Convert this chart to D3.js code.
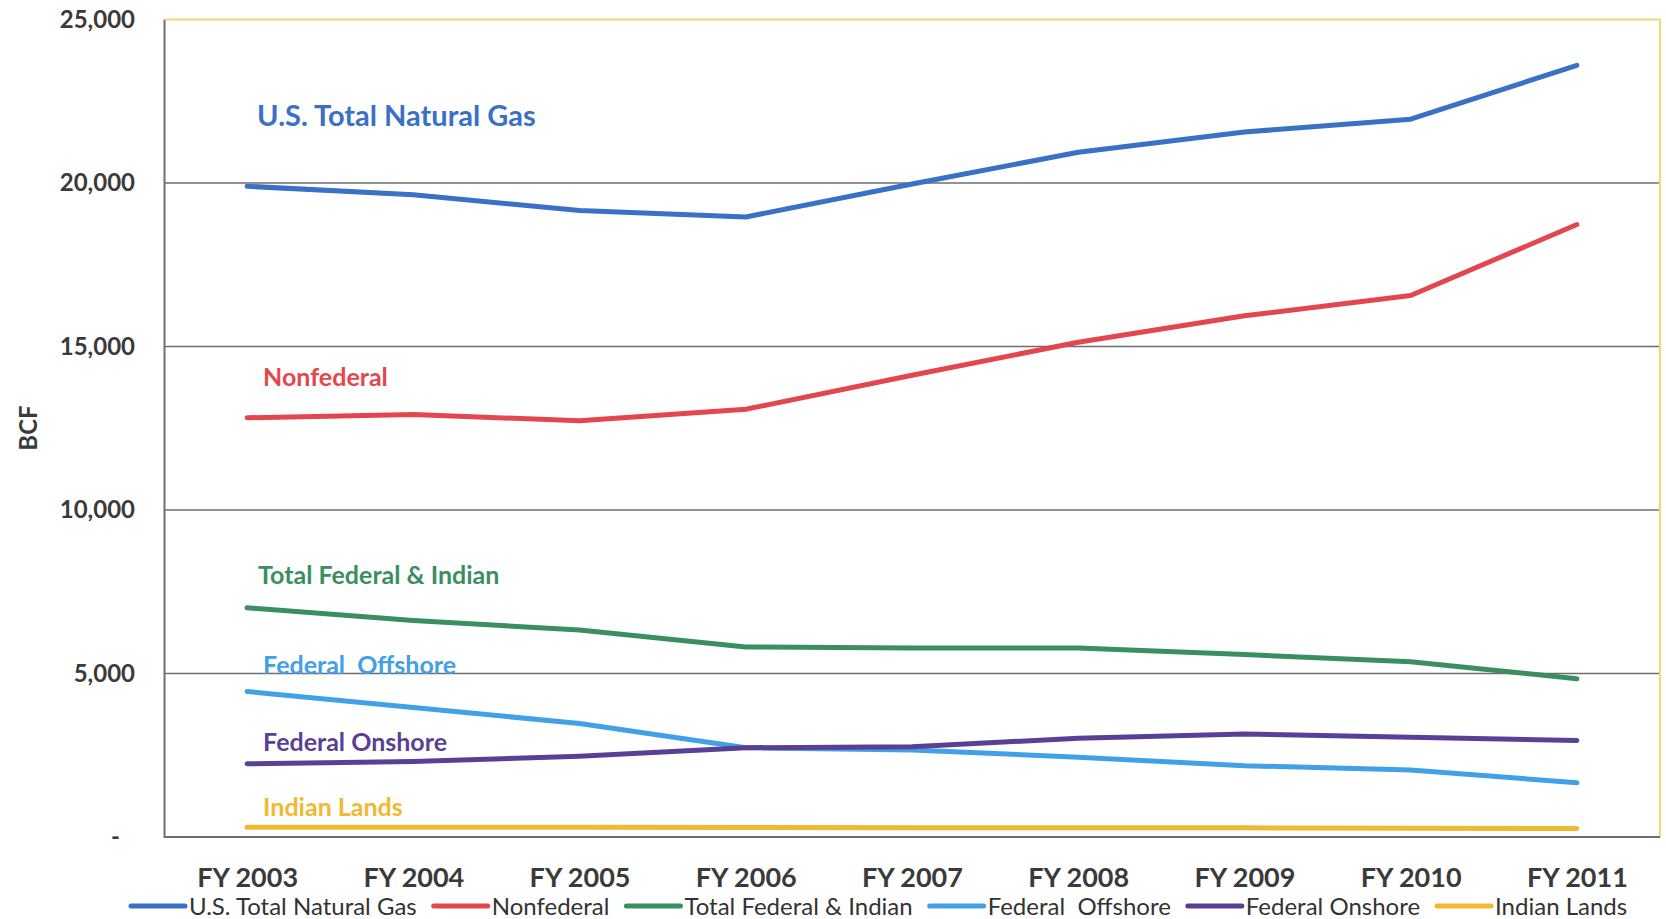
<!DOCTYPE html>
<html>
<head>
<meta charset="utf-8">
<script src="https://cdn.jsdelivr.net/npm/d3@7"></script>
<style>
  body { margin: 0; background: #fff; }
  svg { display: block; font-family: Lato, "Open Sans", sans-serif; }
</style>
</head>
<body>
<svg id="chart"></svg>
<script>
// data (BCF)
let years = ["FY 2003", "FY 2004", "FY 2005", "FY 2006", "FY 2007", "FY 2008", "FY 2009", "FY 2010", "FY 2011"]
let usTotal = [19900, 19640, 19160, 18960, 19970, 20940, 21560, 21950, 23600]
let nonfederal = [12820, 12920, 12730, 13080, 14120, 15130, 15940, 16560, 18730]
let totalFedIndian = [7010, 6620, 6330, 5810, 5780, 5780, 5580, 5360, 4840]
let fedOffshore = [4450, 3960, 3470, 2730, 2660, 2440, 2180, 2050, 1660]
let fedOnshore = [2240, 2310, 2470, 2730, 2760, 3020, 3150, 3050, 2950]
let indianLands = [300, 300, 300, 290, 280, 280, 280, 270, 260]
let yTicks = [0, 5000, 10000, 15000, 20000, 25000]

let series = [
  { name: "U.S. Total Natural Gas", values: usTotal, color: "#3a70c6", dy: -60, dx: 10, size: 29 },
  { name: "Nonfederal", values: nonfederal, color: "#e4464d", dy: -32, dx: 16, size: 25 },
  { name: "Total Federal & Indian", values: totalFedIndian, color: "#3a8f5f", dy: -24, dx: 11, size: 25 },
  { name: "Federal  Offshore", values: fedOffshore, color: "#41a0e6", dy: -17, dx: 16, size: 25 },
  { name: "Federal Onshore", values: fedOnshore, color: "#5a3f96", dy: -13, dx: 16, size: 25 },
  { name: "Indian Lands", values: indianLands, color: "#f1b930", dy: -11, dx: 16, size: 25 }
]

let width = 1666
let height = 919
let padLeft = 164, padRight = 1660, padTop = 19.5, padBottom = 837

let svg = d3.select("#chart").attr("width", width).attr("height", height)

let xScale = d3.scalePoint().domain(years).range([padLeft, padRight]).padding(0.5)
let yScale = d3.scaleLinear().domain([0, 25000]).range([padBottom, padTop])

// gridlines
svg.append("g")
   .selectAll("line")
   .data(yTicks.filter(d => d > 0 && d < 25000))
   .enter()
   .append("line")
   .attr("x1", padLeft).attr("x2", padRight)
   .attr("y1", d => yScale(d)).attr("y2", d => yScale(d))
   .attr("stroke", "#6e6e6e").attr("stroke-width", 1.5)

// plot border: yellow top/right, grey left/bottom
svg.append("line").attr("x1", padLeft).attr("x2", padRight).attr("y1", padTop).attr("y2", padTop)
   .attr("stroke", "#ecd970").attr("stroke-width", 2)
svg.append("line").attr("x1", padRight).attr("x2", padRight).attr("y1", padTop).attr("y2", padBottom)
   .attr("stroke", "#ecd970").attr("stroke-width", 2)

// y axis
let yAxis = d3.axisLeft(yScale)
              .tickValues(yTicks)
              .tickSize(0)
              .tickPadding(29)
              .tickFormat(d => d === 0 ? "-" : d3.format(",")(d))
let gy = svg.append("g").attr("transform", "translate(" + padLeft + ",0)").call(yAxis)
gy.select(".domain").attr("stroke", "#6e6e6e").attr("stroke-width", 2)
gy.selectAll("text").attr("font-size", 24).attr("font-weight", "bold").attr("fill", "#3a3a3a")
  .attr("font-family", "Lato, sans-serif")
gy.selectAll("text").filter(d => d === 0).attr("dx", -15)

// x axis
let xAxis = d3.axisBottom(xScale).tickSize(0).tickPadding(31)
let gx = svg.append("g").attr("transform", "translate(0," + padBottom + ")").call(xAxis)
gx.select(".domain").attr("stroke", "#6e6e6e").attr("stroke-width", 2)
   .attr("d", "M" + padLeft + ",0H" + padRight)
gx.selectAll("text").attr("font-size", 27).attr("font-weight", "bold").attr("fill", "#3a3a3a")
  .attr("font-family", "Lato, sans-serif")

// axis title
svg.append("text")
   .attr("transform", "translate(37,428) rotate(-90)")
   .attr("text-anchor", "middle")
   .attr("font-size", 24).attr("font-weight", "bold").attr("fill", "#3a3a3a")
   .text("BCF")

// lines
let line = d3.line()
             .x((d, i) => xScale(years[i]))
             .y(d => yScale(d))

svg.append("g")
   .selectAll("path")
   .data(series)
   .enter()
   .append("path")
   .attr("d", d => line(d.values))
   .attr("fill", "none")
   .attr("stroke", d => d.color)
   .attr("stroke-width", 5)
   .attr("stroke-linejoin", "round")
   .attr("stroke-linecap", "round")

// inline labels
svg.append("g")
   .selectAll("text")
   .data(series)
   .enter()
   .append("text")
   .attr("x", d => xScale(years[0]) + d.dx)
   .attr("y", d => yScale(d.values[0]) + d.dy)
   .attr("font-size", d => d.size)
   .attr("font-weight", "bold")
   .attr("fill", d => d.color)
   .style("white-space", "pre")
   .text(d => d.name)

// legend
let legend = svg.append("g").attr("transform", "translate(130,906)")
let lx = 0
series.forEach(s => {
  let item = legend.append("g").attr("transform", "translate(" + lx + ",0)")
  item.append("line").attr("x1", 1).attr("x2", 55).attr("y1", 0).attr("y2", 0)
      .attr("stroke", s.color).attr("stroke-width", 5).attr("stroke-linecap", "round")
  let t = item.append("text").attr("x", 59).attr("y", 8.5)
      .attr("font-size", 24).attr("fill", "#333")
      .style("white-space", "pre")
      .text(s.name)
  lx += 59 + t.node().getComputedTextLength() + 16
})
</script>
</body>
</html>
